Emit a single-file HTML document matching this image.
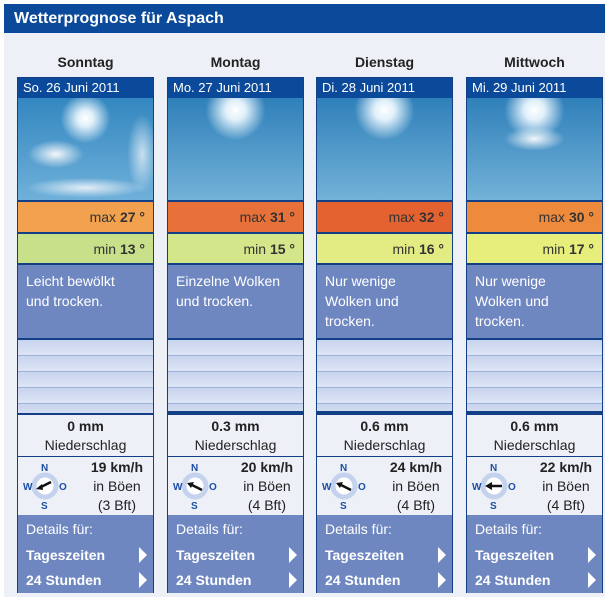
<!DOCTYPE html>
<html><head><meta charset="utf-8"><style>
body{margin:0;width:605px;height:597px;background:#fff;font-family:"Liberation Sans",Arial,sans-serif;position:relative;overflow:hidden}
.bg{position:absolute;left:4px;top:4px;width:601px;height:593px;background:#eef0f7}
.hdr{position:absolute;left:4px;top:4px;width:601px;height:29px;background:#0b4a9b;color:#fff;font-weight:bold;font-size:16px;line-height:29px;padding-left:10px;box-sizing:border-box}
.col{position:absolute;top:77px;width:137px;height:516px;border:1px solid #123f86;box-sizing:border-box;background:#eef0f7}
.day{position:absolute;top:54px;width:137px;text-align:center;font-weight:bold;font-size:14px;color:#222}
.r{position:absolute;left:0;width:135px;box-sizing:border-box}
.date{top:0;height:20px;background:#0b4a9b;color:#fff;font-size:13px;line-height:20px;padding-left:5px}
.img{top:20px;height:102px}
.mx{top:122px;height:32px;border-top:2px solid #123f86;font-size:14px;line-height:30px;text-align:right;padding-right:8px;color:#333}
.mn{top:154px;height:33px;border-top:2px solid #123f86;border-bottom:2px solid #123f86;font-size:14px;line-height:30px;text-align:right;padding-right:8px;color:#333}
.ds{top:187px;height:73px;background:#6f87c0;color:#fff;font-size:14px;line-height:20px;padding:6px 14px 6px 8px}
.rain{top:260px;height:77px;border-top:2px solid #123f86;border-bottom:2px solid #123f86;background:repeating-linear-gradient(#c8d4ee 0,#dde5f5 15px,#9fb2d8 15px,#9fb2d8 16px)}
.pr{top:337px;height:42px;text-align:center;font-size:14px;color:#222;line-height:19px;padding-top:2px;border-bottom:1px solid #123f86}
.wd{top:379px;height:58px}
.wt{position:absolute;right:10px;top:1px;text-align:center;font-size:14px;line-height:19px;color:#222}
.dt{top:437px;height:78px;background:#6f87c0;color:#fff;font-size:14px}
.dt div{position:absolute;left:8px}
.tri{position:absolute;right:6px;width:0;height:0;border-left:8px solid #fff;border-top:8px solid transparent;border-bottom:8px solid transparent}
</style></head><body>
<div class="bg"></div>
<div class="hdr">Wetterprognose für Aspach</div>

<div class="day" style="left:17px">Sonntag</div>
<div class="day" style="left:167px">Montag</div>
<div class="day" style="left:316px">Dienstag</div>
<div class="day" style="left:466px">Mittwoch</div>

<div class="col" style="left:17px">
<div class="r date">So. 26 Juni 2011</div>
<div class="r img" style="background:radial-gradient(circle at 50% 20%,#fff 0,#e0f0fa 8px,transparent 25px),radial-gradient(ellipse 28px 14px at 28% 55%,#f4f7fa,rgba(255,255,255,0)),radial-gradient(ellipse 60px 10px at 50% 88%,rgba(240,245,250,.9),rgba(255,255,255,0)),radial-gradient(ellipse 15px 40px at 92% 55%,rgba(230,240,248,.8),rgba(255,255,255,0)),linear-gradient(#3387c0,#6fb0da)"></div>
<div class="r mx" style="background:#f2a24e">max <b>27 °</b></div>
<div class="r mn" style="background:#c8e08a">min <b>13 °</b></div>
<div class="r ds">Leicht bewölkt und trocken.</div>
<div class="r rain"></div>
<div class="r pr"><b>0 mm</b><br>Niederschlag</div>
<div class="r wd"><svg width="50" height="58" style="position:absolute;left:2px;top:0"><circle cx="25" cy="29" r="11" fill="#fff" stroke="#c4d2ee" stroke-width="5"/><text x="21" y="14" font-size="10" font-weight="bold" fill="#1b4fa3" font-family="Liberation Sans">N</text><text x="21" y="52" font-size="10" font-weight="bold" fill="#1b4fa3" font-family="Liberation Sans">S</text><text x="3" y="33" font-size="10" font-weight="bold" fill="#1b4fa3" font-family="Liberation Sans">W</text><text x="39" y="33" font-size="10" font-weight="bold" fill="#1b4fa3" font-family="Liberation Sans">O</text><path d="M19 31 L31 25" stroke="#111" stroke-width="2.5"/><path d="M16 32 L22 27 L23 33Z" fill="#111"/></svg><div class="wt"><b>19 km/h</b><br>in Böen<br>(3 Bft)</div></div>
<div class="r dt"><div style="top:6px">Details für:</div><div style="top:32px;font-weight:bold">Tageszeiten</div><div style="top:57px;font-weight:bold">24 Stunden</div><span class="tri" style="top:32px"></span><span class="tri" style="top:57px"></span></div>
</div>

<div class="col" style="left:167px">
<div class="r date">Mo. 27 Juni 2011</div>
<div class="r img" style="background:radial-gradient(circle at 50% 12%,#fff 0,#e0f0fa 10px,transparent 30px),linear-gradient(#2f80ba,#73b2d8)"></div>
<div class="r mx" style="background:#e8713a">max <b>31 °</b></div>
<div class="r mn" style="background:#d4e68a">min <b>15 °</b></div>
<div class="r ds">Einzelne Wolken und trocken.</div>
<div class="r rain" style="border-bottom:4px solid #123f86"></div>
<div class="r pr"><b>0.3 mm</b><br>Niederschlag</div>
<div class="r wd"><svg width="50" height="58" style="position:absolute;left:2px;top:0"><circle cx="25" cy="29" r="11" fill="#fff" stroke="#c4d2ee" stroke-width="5"/><text x="21" y="14" font-size="10" font-weight="bold" fill="#1b4fa3" font-family="Liberation Sans">N</text><text x="21" y="52" font-size="10" font-weight="bold" fill="#1b4fa3" font-family="Liberation Sans">S</text><text x="3" y="33" font-size="10" font-weight="bold" fill="#1b4fa3" font-family="Liberation Sans">W</text><text x="39" y="33" font-size="10" font-weight="bold" fill="#1b4fa3" font-family="Liberation Sans">O</text><path d="M20 27 L32 33" stroke="#111" stroke-width="2.5"/><path d="M17 26 L24 25 L21 31Z" fill="#111"/></svg><div class="wt"><b>20 km/h</b><br>in Böen<br>(4 Bft)</div></div>
<div class="r dt"><div style="top:6px">Details für:</div><div style="top:32px;font-weight:bold">Tageszeiten</div><div style="top:57px;font-weight:bold">24 Stunden</div><span class="tri" style="top:32px"></span><span class="tri" style="top:57px"></span></div>
</div>

<div class="col" style="left:316px">
<div class="r date">Di. 28 Juni 2011</div>
<div class="r img" style="background:radial-gradient(circle at 50% 12%,#fff 0,#e0f0fa 10px,transparent 30px),linear-gradient(#2f80ba,#73b2d8)"></div>
<div class="r mx" style="background:#e4622f">max <b>32 °</b></div>
<div class="r mn" style="background:#e2ec82">min <b>16 °</b></div>
<div class="r ds">Nur wenige Wolken und trocken.</div>
<div class="r rain" style="border-bottom:4px solid #123f86"></div>
<div class="r pr"><b>0.6 mm</b><br>Niederschlag</div>
<div class="r wd"><svg width="50" height="58" style="position:absolute;left:2px;top:0"><circle cx="25" cy="29" r="11" fill="#fff" stroke="#c4d2ee" stroke-width="5"/><text x="21" y="14" font-size="10" font-weight="bold" fill="#1b4fa3" font-family="Liberation Sans">N</text><text x="21" y="52" font-size="10" font-weight="bold" fill="#1b4fa3" font-family="Liberation Sans">S</text><text x="3" y="33" font-size="10" font-weight="bold" fill="#1b4fa3" font-family="Liberation Sans">W</text><text x="39" y="33" font-size="10" font-weight="bold" fill="#1b4fa3" font-family="Liberation Sans">O</text><path d="M20 27 L32 33" stroke="#111" stroke-width="2.5"/><path d="M17 26 L24 25 L21 31Z" fill="#111"/></svg><div class="wt"><b>24 km/h</b><br>in Böen<br>(4 Bft)</div></div>
<div class="r dt"><div style="top:6px">Details für:</div><div style="top:32px;font-weight:bold">Tageszeiten</div><div style="top:57px;font-weight:bold">24 Stunden</div><span class="tri" style="top:32px"></span><span class="tri" style="top:57px"></span></div>
</div>

<div class="col" style="left:466px">
<div class="r date">Mi. 29 Juni 2011</div>
<div class="r img" style="background:radial-gradient(circle at 50% 12%,#fff 0,#e0f0fa 10px,transparent 30px),radial-gradient(ellipse 30px 12px at 50% 40%,#f4f7fa,rgba(255,255,255,0)),linear-gradient(#2f80ba,#73b2d8)"></div>
<div class="r mx" style="background:#ee8a3c">max <b>30 °</b></div>
<div class="r mn" style="background:#e8ee7c">min <b>17 °</b></div>
<div class="r ds">Nur wenige Wolken und trocken.</div>
<div class="r rain" style="border-bottom:4px solid #123f86"></div>
<div class="r pr"><b>0.6 mm</b><br>Niederschlag</div>
<div class="r wd"><svg width="50" height="58" style="position:absolute;left:2px;top:0"><circle cx="25" cy="29" r="11" fill="#fff" stroke="#c4d2ee" stroke-width="5"/><text x="21" y="14" font-size="10" font-weight="bold" fill="#1b4fa3" font-family="Liberation Sans">N</text><text x="21" y="52" font-size="10" font-weight="bold" fill="#1b4fa3" font-family="Liberation Sans">S</text><text x="3" y="33" font-size="10" font-weight="bold" fill="#1b4fa3" font-family="Liberation Sans">W</text><text x="39" y="33" font-size="10" font-weight="bold" fill="#1b4fa3" font-family="Liberation Sans">O</text><path d="M20 29 L33 29" stroke="#111" stroke-width="2.5"/><path d="M16 29 L23 25 L23 33Z" fill="#111"/></svg><div class="wt"><b>22 km/h</b><br>in Böen<br>(4 Bft)</div></div>
<div class="r dt"><div style="top:6px">Details für:</div><div style="top:32px;font-weight:bold">Tageszeiten</div><div style="top:57px;font-weight:bold">24 Stunden</div><span class="tri" style="top:32px"></span><span class="tri" style="top:57px"></span></div>
</div>
</body></html>
